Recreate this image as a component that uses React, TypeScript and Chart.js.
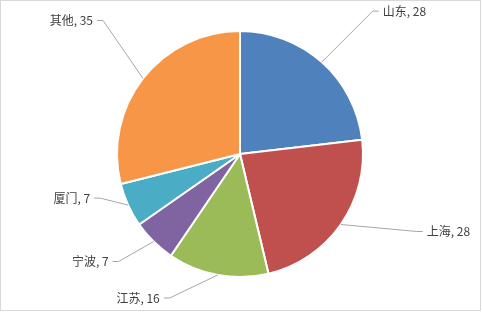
import React, { useEffect, useRef } from "react";
import { Chart, registerables } from "chart.js";

Chart.register(...registerables);

const categories = ["山东", "上海", "江苏", "宁波", "厦门", "其他"];
const values = [28, 28, 16, 7, 7, 35];
const colors = ["#4F81BD", "#C0504D", "#9BBB59", "#8064A2", "#4BACC6", "#F79646"];
// elbow offset of each leader line relative to the slice's outer mid point, and side of label
const leaderOffsets = [
  { dx: 51, dy: -51, side: 1 },
  { dx: 76, dy: 7, side: 1 },
  { dx: -48, dy: 23, side: -1 },
  { dx: -35, dy: 20, side: -1 },
  { dx: -28, dy: -7, side: -1 },
  { dx: -40, dy: -58, side: -1 },
];

const labelPlugin = {
  id: "leaderLabels",
  afterDraw(chart: any) {
    const ctx = chart.ctx;
    ctx.save();
    // outer frame
    ctx.strokeStyle = "#d9d9d9";
    ctx.lineWidth = 1;
    ctx.strokeRect(0.5, 0.5, chart.width - 2, chart.height - 2);
    const meta = chart.getDatasetMeta(0);
    ctx.font = '12px "Noto Sans CJK SC", "Noto Sans", sans-serif';
    ctx.textBaseline = "middle";
    meta.data.forEach((arc: any, i: number) => {
      const mid = (arc.startAngle + arc.endAngle) / 2;
      const r = arc.outerRadius;
      const px = arc.x + Math.cos(mid) * r;
      const py = arc.y + Math.sin(mid) * r;
      const o = leaderOffsets[i];
      const ex = px + o.dx;
      const ey = py + o.dy;
      const hx = ex + o.side * 6;
      ctx.strokeStyle = "#a6a6a6";
      ctx.lineWidth = 1;
      ctx.beginPath();
      ctx.moveTo(px, py);
      ctx.lineTo(ex, ey);
      ctx.lineTo(hx, ey);
      ctx.stroke();
      const text = categories[i] + ", " + values[i];
      ctx.fillStyle = "#404040";
      ctx.textAlign = o.side > 0 ? "left" : "right";
      ctx.fillText(text, hx + o.side * 4, ey);
    });
    ctx.restore();
  },
};

export default function App() {
  const ref = useRef<HTMLCanvasElement>(null);
  useEffect(() => {
    document.body.style.margin = "0";
    const chart = new Chart(ref.current!, {
      type: "pie",
      data: {
        labels: categories,
        datasets: [
          {
            data: values,
            backgroundColor: colors,
            borderColor: "#ffffff",
            borderWidth: 2,
          },
        ],
      },
      options: {
        animation: false,
        responsive: false,
        layout: { padding: { top: 30, bottom: 34, left: 0, right: 2 } },
        plugins: { legend: { display: false }, tooltip: { enabled: false } },
      },
      plugins: [labelPlugin],
    });
    return () => chart.destroy();
  }, []);
  return (
    <div style={{ width: 482, height: 312, background: "#fff" }}>
      <canvas ref={ref} width={482} height={312} style={{ display: "block" }} />
    </div>
  );
}
